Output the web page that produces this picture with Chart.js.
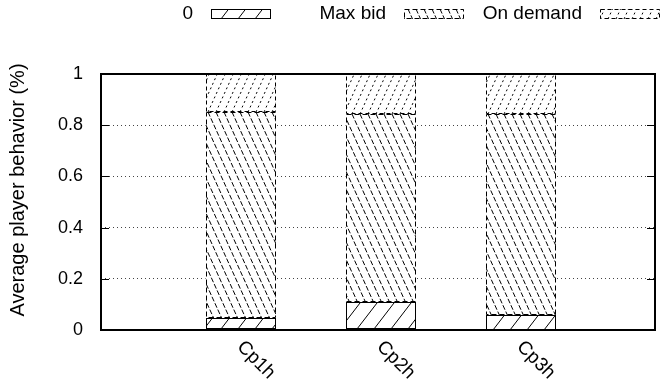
<!DOCTYPE html>
<html>
<head>
<meta charset="utf-8">
<script src="https://cdn.jsdelivr.net/npm/chart.js@4"></script>
<style>
  html, body { margin: 0; padding: 0; background: #fff; }
  #wrap { width: 665px; height: 388px; }
</style>
</head>
<body>
<div id="wrap"><canvas id="grafico"></canvas></div>
<script>
const categories = ['Cp1h', 'Cp2h', 'Cp3h'];
const seriesNames = ['0', 'Max bid', 'On demand'];
const zeroShare = [0.046, 0.108, 0.059];
const maxBidShare = [0.805, 0.736, 0.786];
const onDemandShare = [0.149, 0.156, 0.155];
const yTicks = [0, 0.2, 0.4, 0.6, 0.8, 1];

const FONT = '"Liberation Sans", Arial, Helvetica, sans-serif';

// hatch styles: dir 1 = "/", -1 = "\"
const estilos = [
    { dir: 1, dx: 17, slope: 1.3, dash: [], border: [] },
    { dir: -1, dx: 8, slope: 2.2, dash: [5, 2], border: [5, 3] },
    { dir: 1, dx: 8, slope: 2.2, dash: [2, 3], border: [4, 3] }
];

function hatch(ctx, x, y, w, h, st) {
    ctx.save();
    ctx.beginPath();
    ctx.rect(x, y, w, h);
    ctx.clip();
    ctx.fillStyle = '#fff';
    ctx.fillRect(x, y, w, h);
    ctx.strokeStyle = '#000';
    ctx.lineWidth = 1;
    ctx.setLineDash(st.dash);
    const run = h / st.slope;
    const start = Math.floor((x - run - st.dx) / st.dx) * st.dx;
    for (let x0 = start; x0 < x + w + st.dx; x0 += st.dx) {
        ctx.beginPath();
        if (st.dir > 0) {
            ctx.moveTo(x0, y + h);
            ctx.lineTo(x0 + run, y);
        } else {
            ctx.moveTo(x0, y);
            ctx.lineTo(x0 + run, y + h);
        }
        ctx.stroke();
    }
    ctx.restore();
    ctx.save();
    ctx.strokeStyle = '#000';
    ctx.lineWidth = 1;
    ctx.setLineDash(st.border);
    ctx.strokeRect(x + 0.5, y + 0.5, w - 1, h - 1);
    ctx.restore();
}

const decoracion = {
    id: 'decoracion',
    afterDatasetsDraw(chart) {
        const ctx = chart.ctx;
        chart.data.datasets.forEach((ds, i) => {
            const meta = chart.getDatasetMeta(i);
            meta.data.forEach(bar => {
                const p = bar.getProps(['x', 'y', 'base', 'width'], true);
                const top = Math.min(p.y, p.base);
                const h = Math.abs(p.base - p.y);
                hatch(ctx, Math.round(p.x - p.width / 2), Math.round(top), Math.round(p.width), Math.round(h), estilos[i]);
            });
        });
    },
    afterDraw(chart) {
        const ctx = chart.ctx;
        const a = chart.chartArea;
        const ys = chart.scales.y;
        const xs = chart.scales.x;
        ctx.save();
        // border box
        ctx.strokeStyle = '#000';
        ctx.lineWidth = 2;
        ctx.strokeRect(a.left, a.top, a.right - a.left, a.bottom - a.top);
        // inward ticks
        ctx.lineWidth = 1;
        yTicks.forEach(v => {
            const py = Math.round(ys.getPixelForValue(v)) + 0.5;
            ctx.beginPath();
            ctx.moveTo(a.left, py); ctx.lineTo(a.left + 8, py);
            ctx.moveTo(a.right, py); ctx.lineTo(a.right - 8, py);
            ctx.stroke();
        });
        // x labels rotated
        ctx.fillStyle = '#000';
        ctx.font = '19px ' + FONT;
        ctx.textAlign = 'left';
        ctx.textBaseline = 'middle';
        categories.forEach((c, i) => {
            const px = xs.getPixelForValue(i);
            ctx.save();
            ctx.translate(px - 1, a.bottom + 14);
            ctx.rotate(Math.PI / 4);
            ctx.fillText(c, 0, 0);
            ctx.restore();
        });
        // y title
        ctx.save();
        ctx.translate(18, 190);
        ctx.rotate(-Math.PI / 2);
        ctx.textAlign = 'center';
        ctx.font = '20px ' + FONT;
        ctx.fillText('Average player behavior (%)', 0, 0);
        ctx.restore();
        // legend
        const claves = [193, 386, 582];
        ctx.font = '19px ' + FONT;
        ctx.textAlign = 'right';
        seriesNames.forEach((n, i) => {
            ctx.fillText(n, claves[i], 14);
            hatch(ctx, claves[i] + 18, 9, 60, 10, estilos[i]);
        });
        ctx.restore();
    }
};

const datos = {
    datasets: [zeroShare, maxBidShare, onDemandShare].map((serie, i) => ({
        label: seriesNames[i],
        data: serie.map((v, k) => ({ x: k, y: v })),
        backgroundColor: '#fff',
        borderWidth: 0,
        barThickness: 70
    }))
};

new Chart(document.getElementById('grafico'), {
    type: 'bar',
    data: datos,
    options: {
        responsive: true,
        maintainAspectRatio: false,
        animation: false,
        layout: { padding: { top: 74, right: 10 } },
        plugins: {
            legend: { display: false },
            tooltip: { enabled: false }
        },
        scales: {
            x: {
                type: 'linear',
                stacked: true,
                offset: false,
                min: -1,
                max: 2.96,
                grid: { display: false },
                border: { display: false },
                ticks: { display: false },
                afterFit(scale) { scale.height = 58; }
            },
            y: {
                stacked: true,
                min: 0,
                max: 1,
                ticks: {
                    stepSize: 0.2,
                    padding: 18,
                    color: '#000',
                    font: { family: FONT, size: 18 },
                    callback: v => String(Math.round(v * 10) / 10)
                },
                grid: { color: '#444', drawTicks: false, lineWidth: 1 },
                border: { display: false, dash: [1, 3] },
                afterFit(scale) { scale.width = 101; }
            }
        }
    },
    plugins: [decoracion]
});
</script>
</body>
</html>
